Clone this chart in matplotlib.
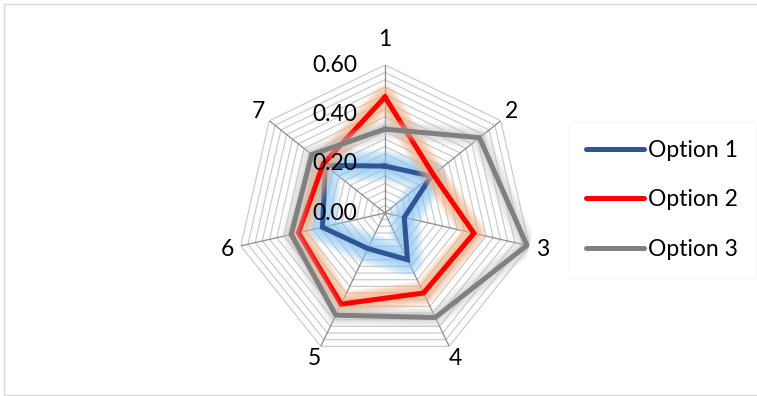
import numpy as np
import matplotlib.pyplot as plt
from matplotlib.lines import Line2D
from matplotlib.patches import Rectangle

plt.rcParams['font.family'] = ['Lato', 'DejaVu Sans']

# radar values per axis
axis_labels = ['1', '2', '3', '4', '5', '6', '7']
option1 = [0.19, 0.24, 0.08, 0.21, 0.16, 0.26, 0.31]
option2 = [0.47, 0.25, 0.37, 0.36, 0.41, 0.36, 0.32]
option3 = [0.34, 0.49, 0.59, 0.47, 0.46, 0.39, 0.38]
series_names = ['Option 1', 'Option 2', 'Option 3']
r_ticks = [0.0, 0.2, 0.4, 0.6]
r_max = 0.6
r_minor = 0.03

line_colors = ['#2f5597', '#ff0000', '#808080']
glow_colors = ['#8ac6f5', '#f4b183', '#c8c8c8']
glow_size = [14, 10, 8]
glow_alpha = [0.12, 0.13, 0.08]

W, H = 757, 396
fig = plt.figure(figsize=(W / 100, H / 100), dpi=100)

# chart area border
fig.patches.append(Rectangle((4 / W, 1 / H), 1.0, (H - 5) / H,
                             transform=fig.transFigure, fill=False,
                             edgecolor='#d9d9d9', linewidth=1.0))

cx, cy, R = 385, 213, 148
ax = fig.add_axes([(cx - R) / W, (H - cy - R) / H, 2 * R / W, 2 * R / H],
                  projection='polar')
ax.set_theta_zero_location('N')
ax.set_theta_direction(-1)
ax.set_ylim(0, r_max)
ax.grid(False)
ax.spines['polar'].set_visible(False)
ax.set_xticks([])
ax.set_yticks([])
ax.patch.set_alpha(0)

n = len(axis_labels)
theta = np.arange(n) * 2 * np.pi / n
theta_c = np.append(theta, theta[0])

# polygon gridlines
for r in np.arange(r_minor, r_max + 1e-9, r_minor):
    ax.plot(theta_c, [r] * (n + 1), color='#cccccc', lw=0.9, zorder=1)
# spokes
for t in theta:
    ax.plot([t, t], [0, r_max], color='#8c8c8c', lw=0.9, zorder=1.5)

for i, vals in enumerate([option1, option2, option3]):
    v = np.append(vals, vals[0])
    z = 2 + i
    steps = 10
    for k in range(steps, 0, -1):
        ax.plot(theta_c, v, color=glow_colors[i], alpha=glow_alpha[i],
                lw=3.6 + glow_size[i] * 2 * k / steps * 0.72,
                solid_joinstyle='round', solid_capstyle='round', zorder=z)
    ax.plot(theta_c, v, color=line_colors[i], lw=3.6,
            solid_joinstyle='miter', zorder=z + 0.5)

# radial value labels along the first spoke
for r in r_ticks:
    ax.annotate(f'{r:.2f}', xy=(0, r), xytext=(-20, 0),
                textcoords='offset points', ha='right', va='center',
                fontsize=16.5, color='black', zorder=10)

# category labels around the outside
for t, lab in zip(theta, axis_labels):
    pad = 25 if lab == '1' else 14
    ax.text(t, r_max * (1 + pad / R), lab, ha='center', va='center',
            fontsize=16.5, color='black', zorder=10)

handles = [Line2D([0], [0], color=c, lw=3.6, solid_capstyle='round')
           for c in line_colors]
leg = fig.legend(handles, series_names, loc='center left',
                 bbox_to_anchor=(568 / W, (H - 200) / H), borderaxespad=0,
                 fontsize=16.5, frameon=True, handlelength=2.5,
                 handletextpad=0.2, labelspacing=1.25, borderpad=0.8)
leg.get_frame().set_edgecolor('#f7f7f7')
leg.get_frame().set_linewidth(1.0)

fig.savefig('out.png', dpi=100)
